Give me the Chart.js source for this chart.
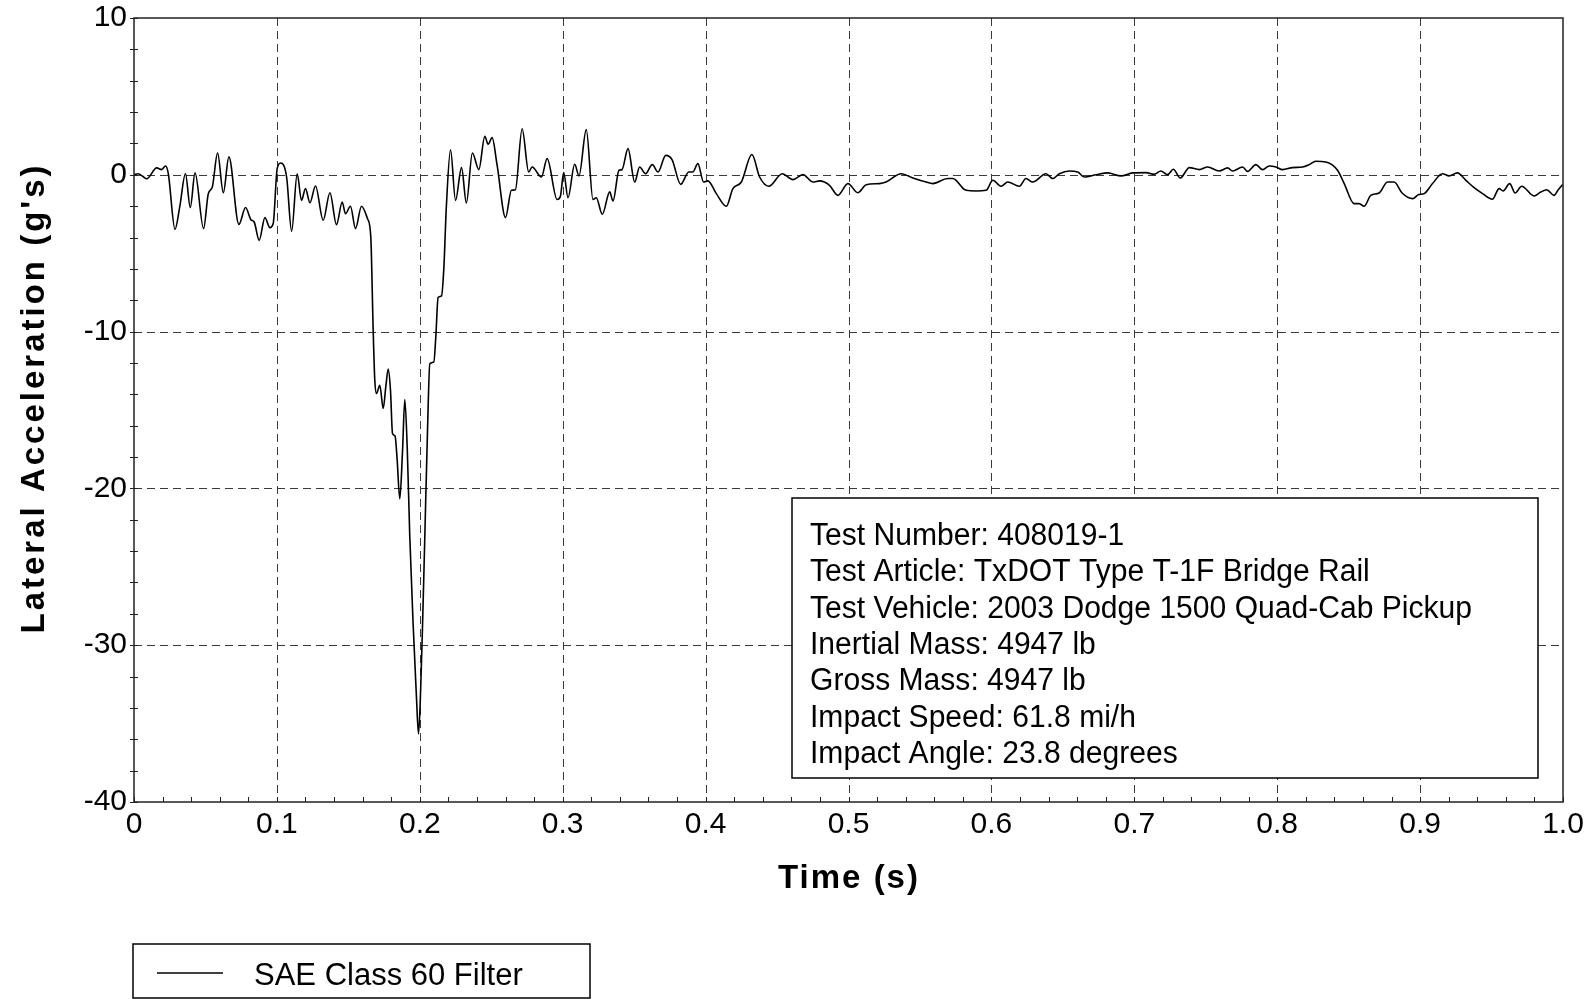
<!DOCTYPE html>
<html>
<head>
<meta charset="utf-8">
<title>Lateral Acceleration</title>
<script src="https://cdn.jsdelivr.net/npm/chart.js@4.4.1/dist/chart.umd.min.js"></script>
<style>
	body { margin: 0; background: #fff; }
	canvas { display: block; }
</style>
</head>
<body>
<canvas id="chart-lateral" width="1594" height="999"></canvas>
<script>
// Data
var time_s = [
	0, .003, .0089, .0159, .0193, .0221, .024, .0287, .032, .036, .0394, .0427, .0487, .052, .0548, .0585, .0625, .0664,
	.0734, .0781, .0818, .0841, .0876, .0916, .0951, .0974, .1002, .1026, .1068, .1103, .1142, .1172, .12, .1231, .127,
	.1324, .1371, .1417, .1457, .148, .1515, .155, .1592, .1634, .1657, .1674, .1685, .1697, .172, .1744, .1762, .1779,
	.1795, .1809, .1827, .1841, .186, .1879, .1895, .1912, .193, .1953, .1977, .1991, .2005, .2019, .2035, .2054, .207,
	.2098, .2112, .2128, .2152, .2168, .2186, .2215, .225, .2292, .2326, .2368, .2413, .2455, .2478, .2506, .2541, .26,
	.2641, .2669, .2716, .2762, .2786, .2851, .2891, .2961, .2984, .3007, .3037, .3084, .3114, .3165, .3212, .3235, .3277,
	.3329, .3352, .3394, .3415, .3457, .3504, .3538, .358, .3627, .3667, .3721, .3765, .3826, .3882, .3911, .3946, .3986,
	.4016, .4075, .4145, .4191, .425, .4324, .4378, .4443, .4536, .4611, .4681, .4751, .4797, .4867, .4926, .4996, .5065,
	.5124, .5217, .5263, .5368, .545, .5543, .559, .5695, .573, .5823, .5893, .5963, .601, .6068, .6114, .6196, .6242,
	.6289, .6382, .6429, .6476, .6545, .6604, .665, .6732, .6814, .6907, .6988, .7082, .714, .7186, .7233, .7273, .7322,
	.7385, .7455, .7513, .7594, .7653, .7688, .7758, .7793, .7851, .7897, .7944, .7991, .8037, .8107, .8177, .8224, .827,
	.834, .8422, .8469, .8538, .8573, .8608, .8655, .8713, .8772, .8818, .8874, .8948, .899, .9028, .9087, .9156, .9203,
	.9261, .932, .9378, .9437, .9506, .9553, .9581, .9627, .9665, .9711, .9797, .9844, .9886, .9937, .9967, 1.0
];
var accel_g = [
	0, .07, -.25, .44, .33, .56, .07, -3.48, -2.05, .07, -2.09, .12, -3.43, -1.2, -.78, 1.39, -1.14, 1.14,
	-3.16, -2.09, -2.86, -3.01, -4.18, -2.73, -3.37, -3.11, .39, .75, -.14, -3.6, .07, -1.63, -.88, -1.78, -.71,
	-2.9, -1.14, -3.18, -1.73, -2.48, -2.01, -3.43, -2.01, -2.8, -3.97, -10, -13.08, -13.95, -13.42, -14.9, -13.53, -12.39,
	-13.76, -16.5, -16.66, -18.1, -20.67, -17.64, -14.33, -17.41, -23.1, -28.6, -33.4, -35.66, -33.1, -28.8, -23.1, -16.3, -12.05,
	-11.94, -10.34, -7.83, -7.72, -6.0, -2.0, 1.6, -1.63, .46, -1.8, 1.39, .33, 2.46, 1.95, 2.37, .61, -2.73,
	-.99, -.95, 2.94, .18, .5, -.14, 1.03, -1.58, -1.37, .14, -1.46, .67, -.07, 2.88, -1.58, -1.46, -2.52,
	-1.09, -1.67, .29, .33, 1.67, -.46, .5, .07, .65, .18, 1.24, .97, -.61, .18, .18, .71, -.46,
	-.39, -1.2, -2.01, -.88, -.46, 1.29, -.14, -.73, .07, -.31, .01, -.46, -.39, -.67, -1.31, -.56, -1.14,
	-.63, -.56, -.46, .07, -.2, -.46, -.56, -.24, -.24, -.99, -1.03, -.99, -.35, -.73, -.46, -.73, -.24,
	-.46, .07, -.24, .07, .24, .18, -.14, 0, .12, -.07, .12, .14, .03, .24, .01, .35, -.2,
	.46, .33, .5, .24, .44, .24, .5, .22, .65, .33, .56, .5, .33, .46, .5, .65, .86,
	.82, .29, -.56, -1.84, -1.84, -2.01, -1.31, -1.16, -.46, -.46, -1.16, -1.52, -1.26, -1.2, -.56, .07, -.07,
	.12, -.35, -.82, -1.2, -1.56, -.88, -1.03, -.56, -1.16, -.73, -1.35, -1.1, -.95, -1.31, -.95, -.6
];
var x_ticks = [0, .1, .2, .3, .4, .5, .6, .7, .8, .9, 1.0];
var x_tick_labels = ['0', '0.1', '0.2', '0.3', '0.4', '0.5', '0.6', '0.7', '0.8', '0.9', '1.0'];
var y_ticks = [-40, -30, -20, -10, 0, 10];
var y_tick_labels = ['-40', '-30', '-20', '-10', '0', '10'];
var series_label = 'SAE Class 60 Filter';
var x_title = 'Time (s)';
var y_title = "Lateral Acceleration (g's)";
var info_lines = [
	'Test Number: 408019-1',
	'Test Article: TxDOT Type T-1F Bridge Rail',
	'Test Vehicle: 2003 Dodge 1500 Quad-Cab Pickup',
	'Inertial Mass: 4947 lb',
	'Gross Mass: 4947 lb',
	'Impact Speed: 61.8 mi/h',
	'Impact Angle: 23.8 degrees'
];

var FONT = 'Arial, "Liberation Sans", sans-serif';

var points = time_s.map(function(t, i) { return {x: t, y: accel_g[i]}; });

/* grid, box, ticks, info text, legend, titles */
var decorPlugin = {
	id: 'decor',
	beforeDatasetsDraw: function(chart) {
		var ctx = chart.ctx, a = chart.chartArea;
		var sx = chart.scales.x, sy = chart.scales.y;
		ctx.save();
		ctx.strokeStyle = '#3a3a3a';
		ctx.lineWidth = 1;
		ctx.setLineDash([8, 5]);
		x_ticks.forEach(function(v) {
			if (v <= 0 || v >= 1) return;
			var px = Math.round(sx.getPixelForValue(v)) + 0.5;
			ctx.beginPath(); ctx.moveTo(px, a.top); ctx.lineTo(px, a.bottom); ctx.stroke();
		});
		y_ticks.forEach(function(v) {
			if (v <= -40 || v >= 10) return;
			var py = Math.round(sy.getPixelForValue(v)) + 0.5;
			ctx.beginPath(); ctx.moveTo(a.left, py); ctx.lineTo(a.right, py); ctx.stroke();
		});
		ctx.restore();
	},
	afterDatasetsDraw: function(chart) {
		var ctx = chart.ctx, a = chart.chartArea;
		var sx = chart.scales.x, sy = chart.scales.y;
		ctx.save();

		// plot frame
		ctx.strokeStyle = '#222';
		ctx.lineWidth = 1.5;
		ctx.strokeRect(a.left, a.top, a.right - a.left, a.bottom - a.top);

		// minor ticks
		ctx.lineWidth = 1;
		for (var i = 0; i <= 50; i++) {
			var px = Math.round(sx.getPixelForValue(i * 0.02)) + 0.5;
			ctx.beginPath(); ctx.moveTo(px, a.bottom); ctx.lineTo(px, a.bottom - 5); ctx.stroke();
		}
		for (var j = -40; j <= 10; j += 2) {
			var py = Math.round(sy.getPixelForValue(j)) + 0.5;
			ctx.beginPath(); ctx.moveTo(a.left - 4, py); ctx.lineTo(a.left + 4, py); ctx.stroke();
		}

		// info box
		var bx = 792, by = 498, bw = 746, bh = 280;
		ctx.fillStyle = '#fff';
		ctx.fillRect(bx, by, bw, bh);
		ctx.strokeStyle = '#000';
		ctx.lineWidth = 1.5;
		ctx.strokeRect(bx, by, bw, bh);
		ctx.fillStyle = '#000';
		ctx.font = '31px ' + FONT;
		ctx.textBaseline = 'alphabetic';
		ctx.textAlign = 'left';
		info_lines.forEach(function(line, k) {
			ctx.save();
			ctx.translate(810, 545 + k * 36.3);
			ctx.scale(0.97, 1);
			ctx.fillText(line, 0, 0);
			ctx.restore();
		});

		// legend
		ctx.strokeRect(133, 944, 457, 54);
		ctx.beginPath(); ctx.moveTo(157, 973); ctx.lineTo(223, 973); ctx.stroke();
		ctx.font = '31px ' + FONT;
		ctx.fillText(series_label, 254, 985);

		// axis titles
		ctx.font = 'bold 33px ' + FONT;
		ctx.textAlign = 'center';
		ctx.letterSpacing = '2px';
		ctx.fillText(x_title, 849, 888);
		ctx.letterSpacing = '3px';
		ctx.translate(44, 398);
		ctx.rotate(-Math.PI / 2);
		ctx.fillText(y_title, 0, 0);
		ctx.restore();
	}
};

var configChartLateral = {
	type: 'line',
	data: {
		datasets: [{
			label: series_label,
			data: points,
			borderColor: '#000',
			borderWidth: 1.6,
			pointRadius: 0,
			fill: false,
			cubicInterpolationMode: 'monotone'
		}]
	},
	options: {
		responsive: false,
		animation: false,
		layout: {
			padding: { left: 0, top: 18, right: 31, bottom: 0 }
		},
		plugins: {
			legend: { display: false },
			tooltip: { enabled: false },
			title: { display: false }
		},
		scales: {
			x: {
				type: 'linear',
				min: 0,
				max: 1,
				grid: { display: false, drawTicks: false },
				border: { display: false },
				afterBuildTicks: function(scale) {
					scale.ticks = x_ticks.map(function(v) { return {value: v}; });
				},
				afterFit: function(scale) {
					scale.height = 197;
					scale.paddingLeft = 0;
					scale.paddingRight = 0;
				},
				ticks: {
					color: '#000',
					padding: 5,
					maxRotation: 0,
					autoSkip: false,
					font: { family: FONT, size: 30 },
					callback: function(v, i) { return x_tick_labels[i]; }
				}
			},
			y: {
				type: 'linear',
				min: -40,
				max: 10,
				grid: { display: false, drawTicks: false },
				border: { display: false },
				afterBuildTicks: function(scale) {
					scale.ticks = y_ticks.map(function(v) { return {value: v}; });
				},
				afterFit: function(scale) {
					scale.width = 134;
					scale.paddingTop = 0;
					scale.paddingBottom = 0;
				},
				ticks: {
					color: '#000',
					padding: 7,
					autoSkip: false,
					font: { family: FONT, size: 30 },
					callback: function(v, i) { return y_tick_labels[i]; }
				}
			}
		}
	},
	plugins: [decorPlugin]
};

/* Chart */
var ctx = document.getElementById('chart-lateral').getContext('2d');
var chartLateral = new Chart(ctx, configChartLateral);
</script>
</body>
</html>
